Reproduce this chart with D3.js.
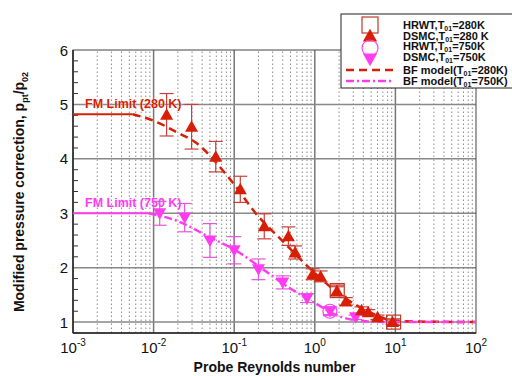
<!DOCTYPE html>
<html>
<head>
<meta charset="utf-8">
<script src="https://cdn.jsdelivr.net/npm/d3@7"></script>
<style>
  body { margin: 0; background: #fff; }
  svg { font-family: "Liberation Sans", Arial, sans-serif; }
</style>
</head>
<body>
<div id="chart"></div>
<script>
// DSMC, T01 = 280 K
const dsmc280Re  = [0.0145, 0.0296, 0.059, 0.119, 0.236, 0.47, 0.57, 0.94, 1.18, 1.88, 2.43, 3.8, 4.6, 6.0, 9.2];
const dsmc280P   = [4.81, 4.59, 4.04, 3.44, 2.76, 2.58, 2.28, 1.88, 1.84, 1.57, 1.38, 1.22, 1.18, 1.09, 1.0];
const dsmc280Err = [0.39, 0.41, 0.28, 0.24, 0.23, 0.17, 0.12, 0.1, 0.1, 0.08, 0.07, 0.06, 0.05, 0.04, 0.04];
// DSMC, T01 = 750 K
const dsmc750Re  = [0.0119, 0.0243, 0.05, 0.1, 0.2, 0.4, 0.8, 1.54, 3.2];
const dsmc750P   = [3.0, 2.92, 2.5, 2.32, 1.97, 1.73, 1.44, 1.2, 1.09];
const dsmc750Err = [0.22, 0.26, 0.31, 0.25, 0.19, 0.12, 0.08, 0.06, 0.04];
// HRWT experiments
const hrwt280Re  = [1.9, 9.5];
const hrwt280P   = [1.58, 1.0];
const hrwt280Err = [0.1, 0.06];
const hrwt750Re  = [1.54];
const hrwt750P   = [1.2];
const hrwt750Err = [0.08];
// BF model curves
const bf280Re = [0.0055, 0.01, 0.02, 0.0333, 0.085, 0.2, 0.38, 1, 2, 5, 10, 100];
const bf280P  = [4.82, 4.7, 4.48, 4.3, 3.66, 2.94, 2.52, 1.9, 1.52, 1.17, 1.02, 1.0];
const bf750Re = [0.0087, 0.0204, 0.048, 0.115, 0.2, 0.52, 1.06, 2.0, 3.9, 10, 100];
const bf750P  = [3.0, 2.85, 2.57, 2.28, 2.03, 1.6, 1.33, 1.11, 1.02, 1.0, 1.0];
// free molecular limits
const fmLimits = [
  { label: "FM Limit (280 K)", p: 4.82, reEnd: 0.0055, color: "#d81e05" },
  { label: "FM Limit (750 K)", p: 3.0, reEnd: 0.0087, color: "#ff3cf0" }
];
const xTickExp = [-3, -2, -1, 0, 1, 2];
const yTicks = [1, 2, 3, 4, 5, 6];

const W = 512, H = 376;
const m = { left: 73, right: 36, top: 50, bottom: 43 };
const red = "#d81e05", redErr = "#c8403a", sqCol = "#c0392b";
const mag = "#ff3cf0", magErr = "#e256e0";

const svg = d3.select("#chart").append("svg").attr("width", W).attr("height", H);

const x = d3.scaleLog().domain([1e-3, 1e2]).range([m.left, W - m.right]);
const y = d3.scaleLinear().domain([0.8, 6]).range([H - m.bottom, m.top]);

const grid = svg.append("g");
// minor vertical grid
const minors = [];
xTickExp.slice(0, -1).forEach(e => { for (let k = 2; k <= 9; k++) minors.push(k * Math.pow(10, e)); });
grid.selectAll(".minor").data(minors).enter().append("line")
  .attr("x1", d => x(d)).attr("x2", d => x(d))
  .attr("y1", y(0.8)).attr("y2", y(6))
  .attr("stroke", "#8a8a8a").attr("stroke-width", 1).attr("stroke-dasharray", "1.5,2.5");
// major vertical grid
grid.selectAll(".majx").data(xTickExp.slice(1, -1)).enter().append("line")
  .attr("x1", d => x(Math.pow(10, d))).attr("x2", d => x(Math.pow(10, d)))
  .attr("y1", y(0.8)).attr("y2", y(6))
  .attr("stroke", "#777").attr("stroke-width", 1.5);
// horizontal grid
grid.selectAll(".majy").data(yTicks.slice(0, -1)).enter().append("line")
  .attr("x1", m.left).attr("x2", W - m.right)
  .attr("y1", d => y(d)).attr("y2", d => y(d))
  .attr("stroke", "#888").attr("stroke-width", 1.5);

// frame
svg.append("rect").attr("x", m.left).attr("y", m.top)
  .attr("width", W - m.left - m.right).attr("height", H - m.top - m.bottom)
  .attr("fill", "none").attr("stroke", "#444").attr("stroke-width", 1);
svg.append("line").attr("x1", m.left).attr("x2", m.left).attr("y1", m.top).attr("y2", y(0.8))
  .attr("stroke", "#222").attr("stroke-width", 1.5);
svg.append("line").attr("x1", m.left).attr("x2", W - m.right).attr("y1", y(0.8)).attr("y2", y(0.8))
  .attr("stroke", "#222").attr("stroke-width", 1.5);

// y minor ticks
const yMinor = d3.range(0.8, 6.001, 0.2).filter(v => Math.abs(v - Math.round(v)) > 0.01);
svg.selectAll(".ymin").data(yMinor).enter().append("line")
  .attr("x1", m.left).attr("x2", m.left + 5)
  .attr("y1", d => y(d)).attr("y2", d => y(d))
  .attr("stroke", "#333").attr("stroke-width", 1);

// tick labels
svg.selectAll(".ylab").data(yTicks).enter().append("text")
  .attr("x", m.left - 5).attr("y", d => y(d) + 5.5)
  .attr("text-anchor", "end").attr("font-size", 15).attr("fill", "#111")
  .text(d => d);
const xl = svg.selectAll(".xlab").data(xTickExp).enter().append("text")
  .attr("x", d => x(Math.pow(10, d))).attr("y", H - m.bottom + 20)
  .attr("text-anchor", "middle").attr("font-size", 15).attr("fill", "#111");
xl.append("tspan").text("10");
xl.append("tspan").attr("dy", -7).attr("font-size", 10).text(d => d);

// axis titles
svg.append("text").attr("x", (m.left + W - m.right) / 2).attr("y", 372)
  .attr("text-anchor", "middle").attr("font-size", 14).attr("font-weight", "bold")
  .attr("fill", "#111").text("Probe Reynolds number");
const yt = svg.append("text").attr("transform", "translate(24,192) rotate(-90)")
  .attr("text-anchor", "middle").attr("font-size", 14).attr("font-weight", "bold").attr("fill", "#111");
yt.append("tspan").text("Modified pressure correction, p");
yt.append("tspan").attr("font-size", 9).attr("dy", 4).text("pt");
yt.append("tspan").attr("dy", -4).text("/p");
yt.append("tspan").attr("font-size", 9).attr("dy", 4).text("02");

// FM limits
fmLimits.forEach(f => {
  svg.append("line").attr("x1", x(1e-3)).attr("x2", x(f.reEnd))
    .attr("y1", y(f.p)).attr("y2", y(f.p))
    .attr("stroke", f.color).attr("stroke-width", 2);
  svg.append("text").attr("x", 85).attr("y", y(f.p) - 6)
    .attr("font-size", 12.5).attr("font-weight", "bold").attr("fill", f.color)
    .attr("stroke", "#fff").attr("stroke-width", 0.6).attr("paint-order", "stroke")
    .text(f.label);
});

// BF model lines
const line = d3.line().x(d => x(d[0])).y(d => y(d[1])).curve(d3.curveMonotoneX);
svg.append("path").datum(d3.zip(bf280Re, bf280P)).attr("d", line)
  .attr("fill", "none").attr("stroke", red).attr("stroke-width", 2.5).attr("stroke-dasharray", "8,5");
svg.append("path").datum(d3.zip(bf750Re, bf750P)).attr("d", line)
  .attr("fill", "none").attr("stroke", mag).attr("stroke-width", 2.5).attr("stroke-dasharray", "8,3,2,3");

// error bars
function errBars(re, p, err, color) {
  const g = svg.append("g").attr("stroke", color).attr("stroke-width", 1.2);
  re.forEach((r, i) => {
    const cx = x(r), y1 = y(p[i] + err[i]), y2 = y(p[i] - err[i]);
    g.append("line").attr("x1", cx).attr("x2", cx).attr("y1", y1).attr("y2", y2);
    g.append("line").attr("x1", cx - 7).attr("x2", cx + 7).attr("y1", y1).attr("y2", y1);
    g.append("line").attr("x1", cx - 7).attr("x2", cx + 7).attr("y1", y2).attr("y2", y2);
  });
}
errBars(dsmc750Re, dsmc750P, dsmc750Err, magErr);
errBars(hrwt750Re, hrwt750P, hrwt750Err, magErr);
errBars(dsmc280Re, dsmc280P, dsmc280Err, redErr);
errBars(hrwt280Re, hrwt280P, hrwt280Err, sqCol);

const triUp = "M0,-6.5L6.5,5L-6.5,5Z";
const triDown = "M0,6.5L6.5,-5L-6.5,-5Z";

function markers(re, p, draw) {
  re.forEach((r, i) => draw(svg.append("g").attr("transform", `translate(${x(r)},${y(p[i])})`)));
}
markers(dsmc750Re, dsmc750P, g => g.append("path").attr("d", triDown).attr("fill", mag));
markers(hrwt750Re, hrwt750P, g => g.append("circle").attr("r", 7).attr("fill", "none").attr("stroke", mag).attr("stroke-width", 1.2));
markers(dsmc280Re, dsmc280P, g => g.append("path").attr("d", triUp).attr("fill", red));
markers(hrwt280Re, hrwt280P, g => g.append("rect").attr("x", -7).attr("y", -7).attr("width", 14).attr("height", 14)
  .attr("fill", "none").attr("stroke", sqCol).attr("stroke-width", 1.2));

// legend
const lg = svg.append("g");
lg.append("rect").attr("x", 341).attr("y", 14).attr("width", 180).attr("height", 74)
  .attr("fill", "#fff").attr("stroke", "#222").attr("stroke-width", 1);
const lx = 370;
lg.append("rect").attr("x", lx - 8).attr("y", 17).attr("width", 16).attr("height", 16)
  .attr("fill", "none").attr("stroke", sqCol).attr("stroke-width", 1.2);
lg.append("path").attr("d", triUp).attr("transform", `translate(${lx},36) scale(1.1)`).attr("fill", red);
lg.append("circle").attr("cx", lx).attr("cy", 48).attr("r", 8).attr("fill", "none").attr("stroke", mag).attr("stroke-width", 1.2);
lg.append("path").attr("d", triDown).attr("transform", `translate(${lx},59) scale(1.1)`).attr("fill", mag);
lg.append("line").attr("x1", 346).attr("x2", 394).attr("y1", 70).attr("y2", 70)
  .attr("stroke", red).attr("stroke-width", 2.5).attr("stroke-dasharray", "8,5");
lg.append("line").attr("x1", 346).attr("x2", 394).attr("y1", 81).attr("y2", 81)
  .attr("stroke", mag).attr("stroke-width", 2.5).attr("stroke-dasharray", "8,3,2,3");

const legendRows = [
  { pre: "HRWT,T", post: "=280K", y: 29 },
  { pre: "DSMC,T", post: "=280 K", y: 39.5 },
  { pre: "HRWT,T", post: "=750K", y: 50 },
  { pre: "DSMC,T", post: "=750K", y: 61 },
  { pre: "BF model(T", post: "=280K)", y: 74 },
  { pre: "BF model(T", post: "=750K)", y: 85 }
];
legendRows.forEach(r => {
  const t = lg.append("text").attr("x", 403).attr("y", r.y).attr("font-size", 11)
    .attr("font-weight", "bold").attr("fill", "#111");
  t.append("tspan").text(r.pre);
  t.append("tspan").attr("font-size", 7).attr("dy", 2).text("01");
  t.append("tspan").attr("dy", -2).text(r.post);
});
</script>
</body>
</html>
